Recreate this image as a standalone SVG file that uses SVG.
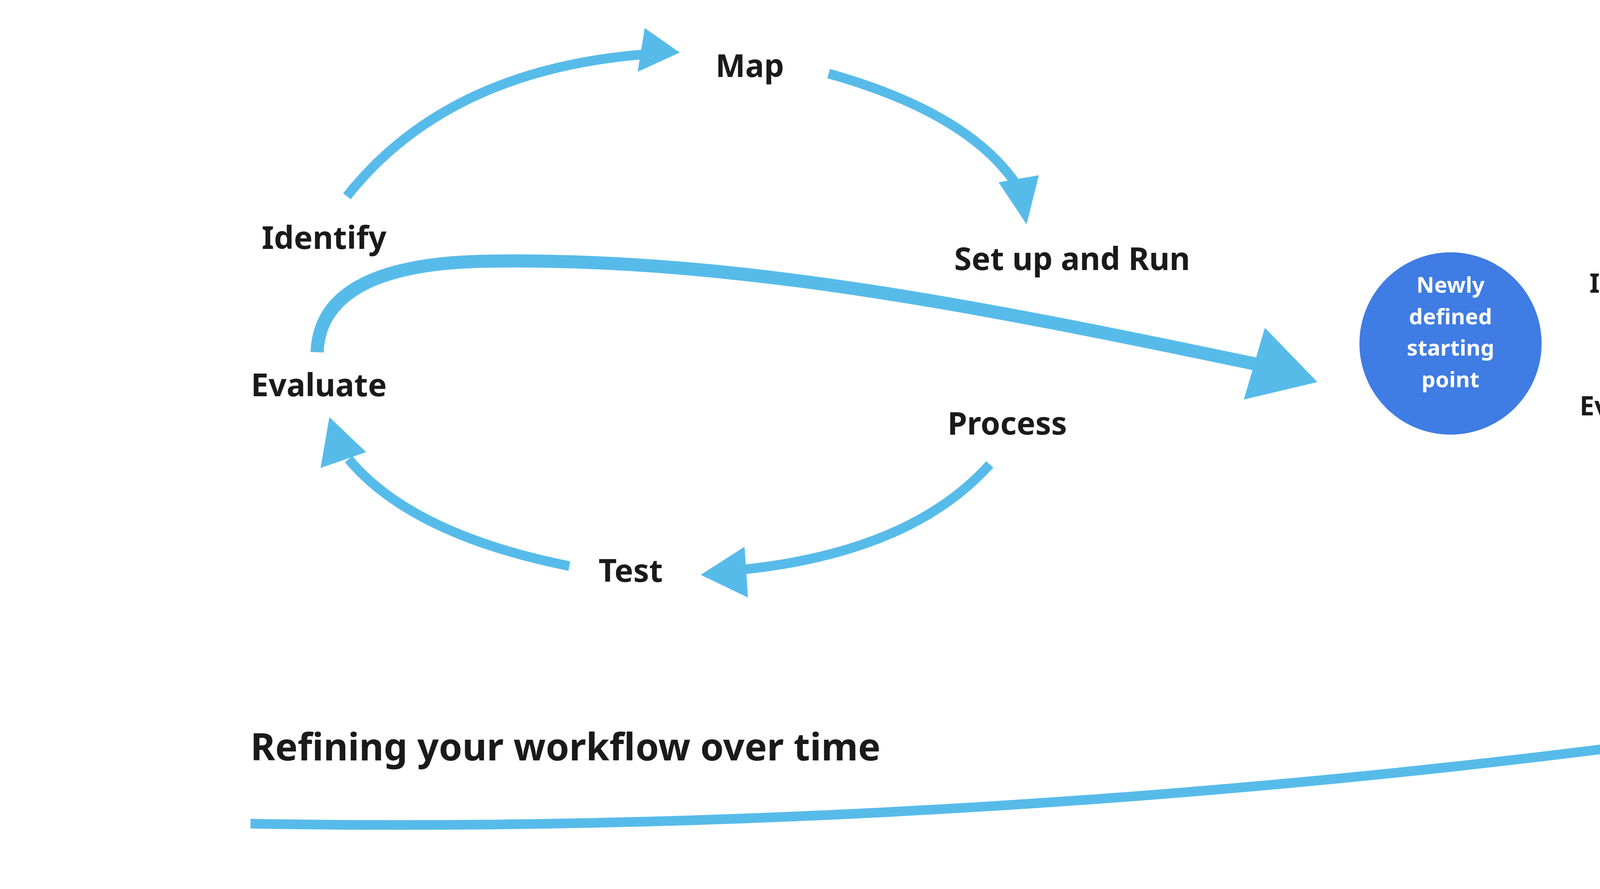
<svg xmlns="http://www.w3.org/2000/svg" width="7032" height="2275" viewBox="0 0 7032 2275">
<style>
.c{fill:none;stroke:#57BBEA;stroke-linecap:butt}
.h{fill:#57BBEA}
.t{font-family:"Noto Sans","Open Sans",sans-serif;font-weight:700;fill:#1a1a1a;text-anchor:middle}
.w{font-family:"Noto Sans","Open Sans",sans-serif;font-weight:700;fill:#fff;text-anchor:middle}
.n{fill:#3F7CE3}
</style>
<rect width="7032" height="2275" fill="#fff"/>
<g transform="scale(4.4847)">
<g id="connectors">
<path class="c" stroke-width="5.5" d="M198,112 Q255,40 368,31"/>
<polygon class="h" points="368,16 388,30 364,41"/>
<path class="c" stroke-width="5.5" d="M473,42 Q555,65 582,108"/>
<polygon class="h" points="570,104 593,100 586,128"/>
<path class="c" stroke-width="5.5" d="M565,265 Q520,315 424,325"/>
<polygon class="h" points="425,312 400,328 427,341"/>
<path class="c" stroke-width="5.5" d="M325,323 Q235,305 199,262"/>
<polygon class="h" points="183,267 188,238 209,258"/>
<path class="c" stroke-width="7.5" d="M181,201 Q183,150 280,149 C420,147 560,175 718,208"/>
<polygon class="h" points="722,187 752,218 710,228"/>
<path class="c" stroke-width="4.5" d="M947,142 Q1000,75 1088,73"/>
<polygon class="h" points="1085,62 1105,77 1083,86"/>
<path class="c" stroke-width="4.5" d="M1176,84 Q1245,105 1265,138"/>
<polygon class="h" points="1255,141 1275,135 1270,158"/>
<path class="c" stroke-width="4.5" d="M1252,270 Q1210,315 1136,320"/>
<polygon class="h" points="1134,309 1116,320 1138,333"/>
<path class="c" stroke-width="4.5" d="M1052,318 Q975,300 946,266"/>
<polygon class="h" points="934,271 940,249 955,265"/>
<path class="c" stroke-width="6" d="M933,216 Q935,172 1035,172 C1140,172 1260,192 1385,220"/>
<polygon class="h" points="1387,205 1411,226 1375,238"/>
<path class="c" stroke-width="5.5" d="M143,470 C600,478 1100,420 1418,333"/>
<polygon class="h" points="1413,322 1441,323 1425,349"/>
</g>
<g id="left-cycle">
<text class="t" x="428" y="44" font-size="18">Map</text>
<text class="t" x="185" y="142" font-size="18">Identify</text>
<text class="t" x="612" y="154" font-size="18">Set up and Run</text>
<text class="t" x="182" y="226" font-size="18">Evaluate</text>
<text class="t" x="575" y="248" font-size="18">Process</text>
<text class="t" x="360" y="332" font-size="18">Test</text>
</g>
<g id="newly">
<circle class="n" cx="828" cy="196" r="52"/>
<text class="w" font-size="12.5"><tspan x="828" y="167">Newly</tspan><tspan x="828" y="185">defined</tspan><tspan x="828" y="203">starting</tspan><tspan x="828" y="221">point</tspan></text>
</g>
<g id="right-cycle">
<text class="t" x="1139" y="85" font-size="15">Map</text>
<text class="t" x="937" y="167" font-size="15">Identify</text>
<text class="t" x="1292" y="176" font-size="15">Set up and Run</text>
<text class="t" x="934" y="237" font-size="15">Evaluate</text>
<text class="t" x="1262" y="255" font-size="15">Process</text>
<text class="t" x="1082" y="325" font-size="15">Test</text>
</g>
<g id="bestfit">
<circle class="n" cx="1472" cy="240" r="47"/>
<text class="w" font-size="16"><tspan x="1472" y="235">Best-fit</tspan><tspan x="1472" y="257">solution</tspan></text>
</g>
<g id="title">
<text class="t" x="143" y="434" font-size="21.5" style="text-anchor:start">Refining your workflow over time</text>
</g>
</g>
</svg>
